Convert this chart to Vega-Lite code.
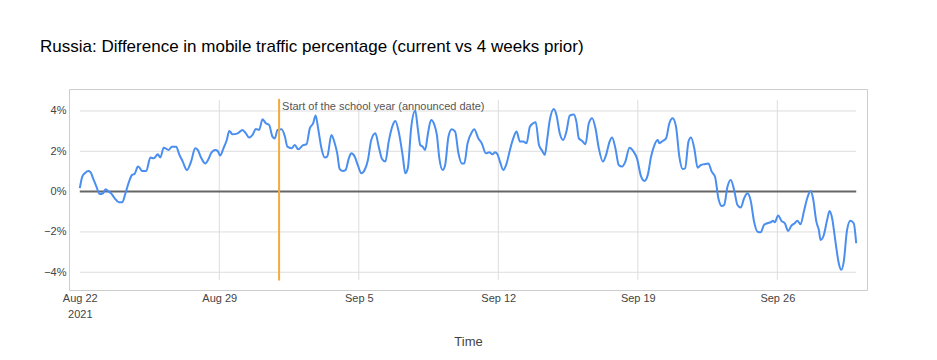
{
  "$schema": "https://vega.github.io/schema/vega-lite/v6.json",
  "autosize": "none",
  "width": 798,
  "height": 201,
  "padding": {"left": 69, "top": 89, "right": 70, "bottom": 70},
  "background": "white",
  "config": {
    "font": "Liberation Sans",
    "view": {"stroke": "#cccccc", "strokeWidth": 1},
    "axis": {
      "ticks": false,
      "tickSize": 0,
      "domain": false,
      "grid": false,
      "labelFontSize": 11,
      "labelColor": "#444444",
      "titleFontSize": 13,
      "titleFontWeight": "normal",
      "titleColor": "#444444"
    }
  },
  "title": {
    "text": "Russia: Difference in mobile traffic percentage (current vs 4 weeks prior)",
    "anchor": "start",
    "frame": "group",
    "dx": -29,
    "offset": 20,
    "baseline": "alphabetic",
    "fontSize": 17,
    "fontWeight": "normal",
    "color": "#000000",
    "font": "Liberation Sans"
  },
  "datasets": {
    "series": [
      {"t":"2021-08-22T00:00","v":0.17},{"t":"2021-08-22T03:00","v":0.74},{"t":"2021-08-22T06:00","v":0.91},{"t":"2021-08-22T10:00","v":1.02},{"t":"2021-08-22T13:00","v":0.96},{"t":"2021-08-22T16:00","v":0.66},{"t":"2021-08-22T20:00","v":0.25},
      {"t":"2021-08-23T00:00","v":-0.12},{"t":"2021-08-23T04:00","v":-0.08},{"t":"2021-08-23T07:00","v":0.12},{"t":"2021-08-23T11:00","v":0.0},{"t":"2021-08-23T14:00","v":-0.10},{"t":"2021-08-23T18:00","v":-0.33},{"t":"2021-08-23T23:00","v":-0.53},
      {"t":"2021-08-24T03:00","v":-0.53},{"t":"2021-08-24T07:00","v":-0.08},{"t":"2021-08-24T11:00","v":0.46},{"t":"2021-08-24T15:00","v":0.83},{"t":"2021-08-24T18:00","v":0.88},{"t":"2021-08-24T22:00","v":1.24},
      {"t":"2021-08-25T00:00","v":1.19},{"t":"2021-08-25T03:00","v":1.02},{"t":"2021-08-25T08:00","v":1.02},{"t":"2021-08-25T13:00","v":1.69},{"t":"2021-08-25T17:00","v":1.65},{"t":"2021-08-25T22:00","v":1.85},
      {"t":"2021-08-26T01:00","v":1.69},{"t":"2021-08-26T05:00","v":2.18},{"t":"2021-08-26T11:00","v":2.07},{"t":"2021-08-26T15:00","v":2.23},{"t":"2021-08-26T20:00","v":2.23},
      {"t":"2021-08-27T00:00","v":1.82},{"t":"2021-08-27T04:00","v":1.49},{"t":"2021-08-27T09:00","v":1.07},{"t":"2021-08-27T14:00","v":1.49},{"t":"2021-08-27T19:00","v":2.15},{"t":"2021-08-27T22:00","v":2.07},
      {"t":"2021-08-28T02:00","v":1.69},{"t":"2021-08-28T07:00","v":1.40},{"t":"2021-08-28T11:00","v":1.62},{"t":"2021-08-28T14:00","v":1.90},{"t":"2021-08-28T19:00","v":2.07},{"t":"2021-08-28T22:00","v":2.02},
      {"t":"2021-08-29T01:00","v":1.79},{"t":"2021-08-29T05:00","v":2.15},{"t":"2021-08-29T09:00","v":2.56},{"t":"2021-08-29T12:00","v":3.01},{"t":"2021-08-29T16:00","v":2.84},{"t":"2021-08-29T22:00","v":2.89},
      {"t":"2021-08-30T04:00","v":3.06},{"t":"2021-08-30T08:00","v":2.89},{"t":"2021-08-30T12:00","v":2.68},{"t":"2021-08-30T16:00","v":2.81},{"t":"2021-08-30T20:00","v":3.11},
      {"t":"2021-08-31T00:00","v":3.06},{"t":"2021-08-31T04:00","v":3.59},{"t":"2021-08-31T08:00","v":3.39},{"t":"2021-08-31T12:00","v":3.31},{"t":"2021-08-31T16:00","v":2.73},{"t":"2021-08-31T19:00","v":2.64},{"t":"2021-08-31T22:00","v":3.06},
      {"t":"2021-09-01T03:00","v":3.09},{"t":"2021-09-01T07:00","v":2.73},{"t":"2021-09-01T10:00","v":2.23},{"t":"2021-09-01T15:00","v":2.15},{"t":"2021-09-01T19:00","v":2.31},{"t":"2021-09-01T23:00","v":2.10},
      {"t":"2021-09-02T05:00","v":2.31},{"t":"2021-09-02T09:00","v":2.35},{"t":"2021-09-02T13:00","v":3.14},{"t":"2021-09-02T17:00","v":3.39},{"t":"2021-09-02T20:00","v":3.77},{"t":"2021-09-02T23:00","v":3.14},
      {"t":"2021-09-03T03:00","v":2.15},{"t":"2021-09-03T07:00","v":1.69},{"t":"2021-09-03T10:00","v":1.74},{"t":"2021-09-03T15:00","v":2.81},{"t":"2021-09-03T19:00","v":2.40},{"t":"2021-09-03T22:00","v":1.90},
      {"t":"2021-09-04T01:00","v":1.12},{"t":"2021-09-04T05:00","v":1.02},{"t":"2021-09-04T08:00","v":1.07},{"t":"2021-09-04T12:00","v":1.65},{"t":"2021-09-04T15:00","v":1.90},{"t":"2021-09-04T19:00","v":1.74},{"t":"2021-09-04T23:00","v":1.29},
      {"t":"2021-09-05T03:00","v":0.91},{"t":"2021-09-05T07:00","v":1.07},{"t":"2021-09-05T11:00","v":1.57},{"t":"2021-09-05T15:00","v":2.56},{"t":"2021-09-05T20:00","v":2.89},
      {"t":"2021-09-06T00:00","v":2.23},{"t":"2021-09-06T04:00","v":1.62},{"t":"2021-09-06T08:00","v":1.49},{"t":"2021-09-06T12:00","v":2.48},{"t":"2021-09-06T17:00","v":3.31},{"t":"2021-09-06T20:00","v":3.50},
      {"t":"2021-09-07T00:00","v":2.98},{"t":"2021-09-07T05:00","v":1.74},{"t":"2021-09-07T08:00","v":0.91},{"t":"2021-09-07T11:00","v":1.16},{"t":"2021-09-07T15:00","v":3.14},{"t":"2021-09-07T20:00","v":4.02},{"t":"2021-09-07T23:00","v":3.14},
      {"t":"2021-09-08T02:00","v":2.31},{"t":"2021-09-08T05:00","v":2.23},{"t":"2021-09-08T08:00","v":2.07},{"t":"2021-09-08T11:00","v":2.81},{"t":"2021-09-08T15:00","v":3.55},{"t":"2021-09-08T19:00","v":3.31},{"t":"2021-09-08T22:00","v":2.81},
      {"t":"2021-09-09T01:00","v":1.65},{"t":"2021-09-09T05:00","v":1.07},{"t":"2021-09-09T08:00","v":1.32},{"t":"2021-09-09T12:00","v":2.73},{"t":"2021-09-09T16:00","v":3.09},{"t":"2021-09-09T20:00","v":2.98},
      {"t":"2021-09-10T00:00","v":1.90},{"t":"2021-09-10T04:00","v":1.40},{"t":"2021-09-10T07:00","v":1.40},{"t":"2021-09-10T11:00","v":2.40},{"t":"2021-09-10T16:00","v":2.94},{"t":"2021-09-10T19:00","v":3.09},
      {"t":"2021-09-11T00:00","v":2.64},{"t":"2021-09-11T04:00","v":2.40},{"t":"2021-09-11T09:00","v":1.90},{"t":"2021-09-11T13:00","v":1.95},{"t":"2021-09-11T17:00","v":1.85},{"t":"2021-09-11T20:00","v":1.95},{"t":"2021-09-11T23:00","v":1.85},
      {"t":"2021-09-12T02:00","v":1.49},{"t":"2021-09-12T06:00","v":1.07},{"t":"2021-09-12T10:00","v":1.40},{"t":"2021-09-12T14:00","v":2.07},{"t":"2021-09-12T18:00","v":2.64},{"t":"2021-09-12T22:00","v":2.98},
      {"t":"2021-09-13T02:00","v":2.48},{"t":"2021-09-13T06:00","v":2.48},{"t":"2021-09-13T10:00","v":2.40},{"t":"2021-09-13T14:00","v":3.22},{"t":"2021-09-13T18:00","v":3.39},{"t":"2021-09-13T21:00","v":3.44},
      {"t":"2021-09-14T01:00","v":2.31},{"t":"2021-09-14T05:00","v":2.02},{"t":"2021-09-14T08:00","v":1.82},{"t":"2021-09-14T11:00","v":2.64},{"t":"2021-09-14T14:00","v":3.55},{"t":"2021-09-14T19:00","v":4.10},{"t":"2021-09-14T22:00","v":3.80},
      {"t":"2021-09-15T02:00","v":2.89},{"t":"2021-09-15T06:00","v":2.56},{"t":"2021-09-15T10:00","v":2.98},{"t":"2021-09-15T14:00","v":3.77},{"t":"2021-09-15T19:00","v":3.83},{"t":"2021-09-15T22:00","v":3.47},
      {"t":"2021-09-16T01:00","v":2.64},{"t":"2021-09-16T05:00","v":2.51},{"t":"2021-09-16T09:00","v":2.35},{"t":"2021-09-16T13:00","v":3.39},{"t":"2021-09-16T17:00","v":3.64},{"t":"2021-09-16T21:00","v":3.14},
      {"t":"2021-09-17T01:00","v":2.15},{"t":"2021-09-17T06:00","v":1.49},{"t":"2021-09-17T10:00","v":1.85},{"t":"2021-09-17T14:00","v":2.48},{"t":"2021-09-17T17:00","v":2.68},{"t":"2021-09-17T21:00","v":2.15},
      {"t":"2021-09-18T01:00","v":1.32},{"t":"2021-09-18T05:00","v":1.24},{"t":"2021-09-18T09:00","v":1.49},{"t":"2021-09-18T14:00","v":2.18},{"t":"2021-09-18T19:00","v":1.98},{"t":"2021-09-18T23:00","v":1.65},
      {"t":"2021-09-19T04:00","v":0.74},{"t":"2021-09-19T08:00","v":0.53},{"t":"2021-09-19T12:00","v":0.83},{"t":"2021-09-19T16:00","v":1.74},{"t":"2021-09-19T20:00","v":2.31},
      {"t":"2021-09-20T00:00","v":2.56},{"t":"2021-09-20T02:00","v":2.40},{"t":"2021-09-20T06:00","v":2.51},{"t":"2021-09-20T10:00","v":2.64},{"t":"2021-09-20T14:00","v":3.39},{"t":"2021-09-20T18:00","v":3.64},{"t":"2021-09-20T22:00","v":3.22},
      {"t":"2021-09-21T02:00","v":1.74},{"t":"2021-09-21T06:00","v":1.12},{"t":"2021-09-21T09:00","v":1.16},{"t":"2021-09-21T13:00","v":2.48},{"t":"2021-09-21T16:00","v":2.68},{"t":"2021-09-21T20:00","v":2.15},
      {"t":"2021-09-22T00:00","v":1.19},{"t":"2021-09-22T04:00","v":1.32},{"t":"2021-09-22T08:00","v":1.36},{"t":"2021-09-22T13:00","v":1.40},{"t":"2021-09-22T17:00","v":0.99},{"t":"2021-09-22T21:00","v":0.74},
      {"t":"2021-09-23T01:00","v":-0.33},{"t":"2021-09-23T05:00","v":-0.71},{"t":"2021-09-23T08:00","v":-0.66},{"t":"2021-09-23T12:00","v":0.25},{"t":"2021-09-23T16:00","v":0.58},{"t":"2021-09-23T20:00","v":0.08},
      {"t":"2021-09-24T00:00","v":-0.66},{"t":"2021-09-24T04:00","v":-0.79},{"t":"2021-09-24T08:00","v":-0.33},{"t":"2021-09-24T12:00","v":-0.08},{"t":"2021-09-24T16:00","v":-0.46},{"t":"2021-09-24T20:00","v":-1.49},
      {"t":"2021-09-25T00:00","v":-1.98},{"t":"2021-09-25T04:00","v":-2.02},{"t":"2021-09-25T08:00","v":-1.65},{"t":"2021-09-25T12:00","v":-1.57},{"t":"2021-09-25T16:00","v":-1.52},{"t":"2021-09-25T19:00","v":-1.45},{"t":"2021-09-25T21:00","v":-1.52},
      {"t":"2021-09-26T01:00","v":-1.19},{"t":"2021-09-26T05:00","v":-1.45},{"t":"2021-09-26T09:00","v":-1.57},{"t":"2021-09-26T13:00","v":-1.95},{"t":"2021-09-26T17:00","v":-1.69},{"t":"2021-09-26T21:00","v":-1.57},
      {"t":"2021-09-27T00:00","v":-1.45},{"t":"2021-09-27T04:00","v":-1.62},{"t":"2021-09-27T08:00","v":-0.99},{"t":"2021-09-27T12:00","v":-0.33},{"t":"2021-09-27T16:00","v":0.03},{"t":"2021-09-27T19:00","v":-0.33},{"t":"2021-09-27T23:00","v":-1.49},
      {"t":"2021-09-28T02:00","v":-1.90},{"t":"2021-09-28T04:00","v":-2.40},{"t":"2021-09-28T08:00","v":-2.15},{"t":"2021-09-28T12:00","v":-1.40},{"t":"2021-09-28T15:00","v":-0.96},{"t":"2021-09-28T18:00","v":-1.32},{"t":"2021-09-28T22:00","v":-2.48},
      {"t":"2021-09-29T02:00","v":-3.55},{"t":"2021-09-29T05:00","v":-3.88},{"t":"2021-09-29T08:00","v":-3.47},{"t":"2021-09-29T12:00","v":-1.90},{"t":"2021-09-29T16:00","v":-1.45},{"t":"2021-09-29T20:00","v":-1.57},{"t":"2021-09-29T23:00","v":-2.56}
    ],
    "hgrid": [
      {"v": 4, "from": "2021-08-22T00:00", "to": "2021-09-29T23:00"},
      {"v": 2, "from": "2021-08-22T00:00", "to": "2021-09-29T23:00"},
      {"v": -2, "from": "2021-08-22T00:00", "to": "2021-09-29T23:00"},
      {"v": -4, "from": "2021-08-22T00:00", "to": "2021-09-29T23:00"}
    ],
    "vgrid": [
      {"t": "2021-08-29T00:00"},
      {"t": "2021-09-05T00:00"},
      {"t": "2021-09-12T00:00"},
      {"t": "2021-09-19T00:00"},
      {"t": "2021-09-26T00:00"}
    ],
    "zero": [{"v": 0, "from": "2021-08-22T00:00", "to": "2021-09-29T23:00"}],
    "school": [{"t": "2021-09-01T00:00", "label": "Start of the school year (announced date)"}]
  },
  "layer": [
    {
      "data": {"name": "hgrid"},
      "mark": {"type": "rule", "color": "#dddddd", "strokeWidth": 1},
      "encoding": {
        "x": {
          "field": "from",
          "type": "temporal",
          "scale": {"domain": [{"year": 2021, "month": 8, "date": 21, "hours": 11}, {"year": 2021, "month": 9, "date": 30, "hours": 12}]},
          "axis": {
            "title": "Time",
            "titlePadding": 16,
            "values": [
              {"year": 2021, "month": 8, "date": 22},
              {"year": 2021, "month": 8, "date": 29},
              {"year": 2021, "month": 9, "date": 5},
              {"year": 2021, "month": 9, "date": 12},
              {"year": 2021, "month": 9, "date": 19},
              {"year": 2021, "month": 9, "date": 26}
            ],
            "labelExpr": "month(datum.value) == 7 && date(datum.value) == 22 ? ['Aug 22', '2021'] : timeFormat(datum.value, '%b %-d')",
            "labelLineHeight": 16,
            "labelPadding": 2,
            "labelFlush": false,
            "labelOverlap": false
          }
        },
        "x2": {"field": "to"},
        "y": {
          "field": "v",
          "type": "quantitative",
          "scale": {"domain": [-4.88, 5.09], "nice": false, "zero": false},
          "axis": {
            "title": null,
            "values": [-4, -2, 0, 2, 4],
            "labelExpr": "format(datum.value, 'd') + '%'",
            "labelPadding": 3
          }
        }
      }
    },
    {
      "data": {"name": "vgrid"},
      "mark": {"type": "rule", "color": "#dddddd", "strokeWidth": 1},
      "encoding": {
        "x": {"field": "t", "type": "temporal"},
        "y": {"datum": 4.55, "type": "quantitative"},
        "y2": {"datum": -4.38}
      }
    },
    {
      "data": {"name": "zero"},
      "mark": {"type": "rule", "color": "#666666", "strokeWidth": 2},
      "encoding": {
        "x": {"field": "from", "type": "temporal"},
        "x2": {"field": "to"},
        "y": {"field": "v", "type": "quantitative"}
      }
    },
    {
      "data": {"name": "series"},
      "mark": {"type": "line", "color": "#4a8ef0", "strokeWidth": 2, "interpolate": "monotone"},
      "encoding": {
        "x": {"field": "t", "type": "temporal"},
        "y": {"field": "v", "type": "quantitative"}
      }
    },
    {
      "data": {"name": "school"},
      "mark": {"type": "rule", "color": "#f5aa3a", "strokeWidth": 2},
      "encoding": {
        "x": {"field": "t", "type": "temporal"},
        "y": {"datum": 4.6, "type": "quantitative"},
        "y2": {"datum": -4.41}
      }
    },
    {
      "data": {"name": "school"},
      "mark": {"type": "text", "align": "left", "baseline": "middle", "dx": 3, "fontSize": 11, "color": "#555555"},
      "encoding": {
        "x": {"field": "t", "type": "temporal"},
        "y": {"datum": 4.2, "type": "quantitative"},
        "text": {"field": "label"}
      }
    }
  ]
}
